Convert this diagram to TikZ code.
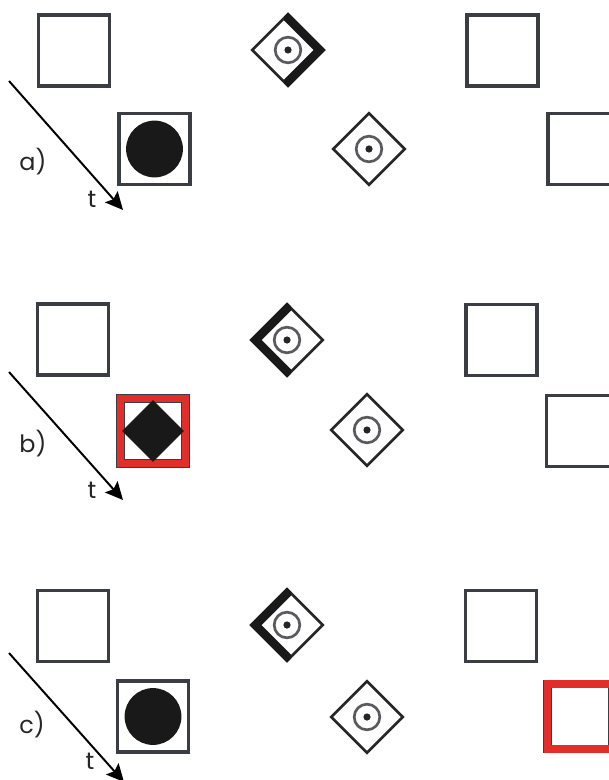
\documentclass[tikz,border=0pt]{standalone}
\usepackage{fontspec}
\setsansfont{Poppins}
\usetikzlibrary{arrows.meta,shapes,calc}
\definecolor{boxgray}{RGB}{58,62,66}
\definecolor{ringgray}{RGB}{88,90,94}
\definecolor{signred}{RGB}{226,46,42}

\begin{document}
\begin{tikzpicture}[x=0.025cm, y=-0.025cm,
    box/.style={draw=boxgray, line width=2.4pt, minimum size=1.78cm, inner sep=0pt},
    redbox/.style={draw=boxgray, double=signred, double distance=5.4pt, line width=0.4pt, minimum size=1.63cm, inner sep=0pt},
    sign/.style={diamond, aspect=1, draw=black!85, line width=1.9pt, minimum size=1.81cm, inner sep=0pt},
    disc/.style={circle, fill=black!90, minimum size=1.42cm, inner sep=0pt},
    blackdia/.style={diamond, aspect=1, fill=black!90, minimum size=1.55cm, inner sep=0pt},
    timearrow/.style={-{Stealth[length=4.4mm, width=4.2mm, inset=0.8mm]}, line width=1.4pt},
    lbl/.style={font=\sffamily\fontsize{17}{20}\selectfont, text=black!85, anchor=base, inner sep=0pt}]
    \clip (0,0) rectangle (609,780);

    % a) row
    \node[box] (sqA1) at (74,50.5) {};
    \node[box] (sqA2) at (154.5,149) {};
    \node[disc] (discA) at (154.5,149) {};
    \node[sign] (dA1) at (288,50) {};
    \node[sign] (dA2) at (369,149) {};
    \node[box] (sqA3) at (502.5,50.5) {};
    \node[box] (sqA4) at (583.5,149) {};
    \coordinate (tA0) at (9,81);
    \coordinate (tA1) at (123,210);
    \draw[timearrow] (tA0) -- (tA1);
    \node[lbl] (labA) at (33,171) {a)};
    \node[lbl] (tA) at (92,208) {t};

    % b) row
    \node[box] (sqB1) at (73,339.5) {};
    \node[redbox] (sqB2) at (153,431) {};
    \node[blackdia] (fillB) at (153,431) {};
    \node[sign] (dB1) at (287,340) {};
    \node[sign] (dB2) at (367,430) {};
    \node[box] (sqB3) at (501.5,340) {};
    \node[box] (sqB4) at (582,431) {};
    \coordinate (tB0) at (9,372);
    \coordinate (tB1) at (123,500);
    \draw[timearrow] (tB0) -- (tB1);
    \node[lbl] (labB) at (33,452) {b)};
    \node[lbl] (tB) at (92,498) {t};

    % c) row
    \node[box] (sqC1) at (73,626) {};
    \node[box] (sqC2) at (153,716.5) {};
    \node[disc] (discC) at (153,716.5) {};
    \node[sign] (dC1) at (287,625) {};
    \node[sign] (dC2) at (367,717) {};
    \node[box] (sqC3) at (501,626) {};
    \node[redbox] (sqC4) at (580,716.5) {};
    \coordinate (tC0) at (9,653);
    \coordinate (tC1) at (124,782);
    \draw[timearrow] (tC0) -- (tC1);
    \node[lbl] (labC) at (32,733) {c)};
    \node[lbl] (tC) at (90,769) {t};

    % thick side of the upper signs (1 = right, -1 = left)
    \foreach \d/\s in {dA1/1, dB1/-1, dC1/-1}
        \fill[black!90] ($(\d.center)+(-4*\s,-33.5)$) -- ($(\d.center)+(0,-37.5)$)
            -- ($(\d.center)+(37.5*\s,0)$) -- ($(\d.center)+(0,37.5)$)
            -- ($(\d.center)+(-4*\s,33.5)$) -- ($(\d.center)+(-4*\s,29.5)$)
            -- ($(\d.center)+(25.5*\s,0)$) -- ($(\d.center)+(-4*\s,-29.5)$) -- cycle;

    % targets
    \foreach \d in {dA1, dA2, dB1, dB2, dC1, dC2} {
        \draw[ringgray, line width=1.9pt] (\d.center) circle (0.32cm);
        \fill[black!85] (\d.center) circle (0.09cm);
    }
\end{tikzpicture}
\end{document}
